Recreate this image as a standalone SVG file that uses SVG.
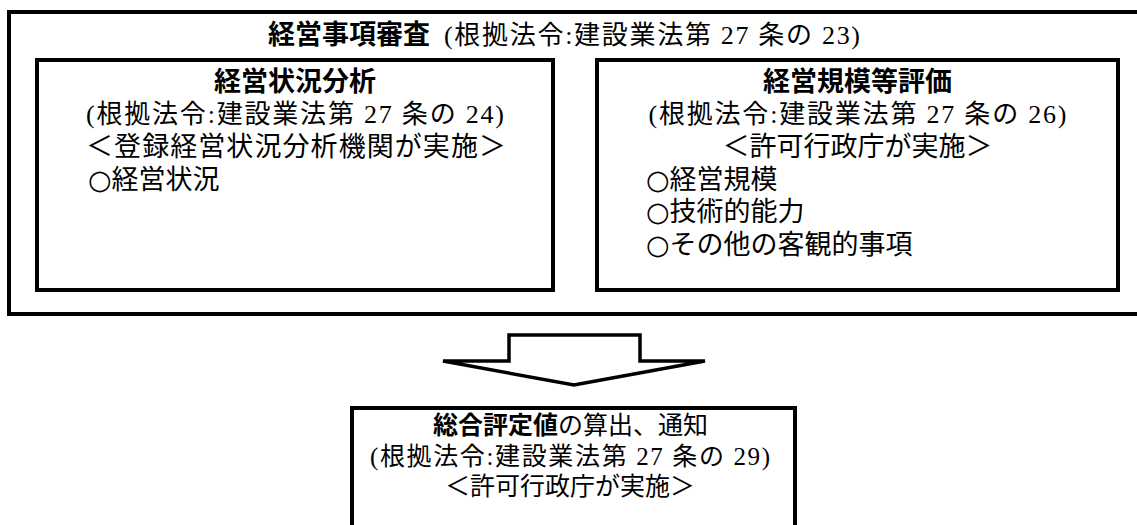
<svg xmlns="http://www.w3.org/2000/svg" width="1137" height="525" viewBox="0 0 1137 525">
<style>
.box{fill:none;stroke:#000;stroke-width:4}
.t{font-family:'Liberation Serif','Noto Sans CJK JP',serif;font-size:27px;fill:#000}
.i{font-family:'DejaVu Sans','Noto Sans CJK JP',sans-serif}
.c{font-size:26px}
.s{font-size:25px}
.b{font-weight:bold}
.arrow{fill:#fff;stroke:#000;stroke-width:3.5;stroke-linejoin:miter}
</style>
<rect x="0" y="0" width="1137" height="525" fill="#fff"/>
<g id="outer">
<rect class="box" x="9" y="12" width="1140" height="302"/>
<text class="t b" x="268" y="44">経営事項審査</text>
<text class="t c" x="444" y="44" textLength="416" lengthAdjust="spacing">(根拠法令:建設業法第 27 条の 23)</text>
</g>
<g id="analysis">
<rect class="box" x="37" y="60" width="516" height="230"/>
<text class="t b" x="295" y="91" text-anchor="middle">経営状況分析</text>
<text class="t c" x="86" y="123" textLength="418" lengthAdjust="spacing">(根拠法令:建設業法第 27 条の 24)</text>
<text class="t" x="86" y="156" textLength="420" lengthAdjust="spacing">＜登録経営状況分析機関が実施＞</text>
<text class="t i" x="88" y="188.5">○経営状況</text>
</g>
<g id="scale">
<rect class="box" x="597" y="60" width="521" height="230"/>
<text class="t b" x="857.5" y="91" text-anchor="middle">経営規模等評価</text>
<text class="t c" x="648.5" y="123" textLength="418" lengthAdjust="spacing">(根拠法令:建設業法第 27 条の 26)</text>
<text class="t" x="857.5" y="156" text-anchor="middle">＜許可行政庁が実施＞</text>
<text class="t i" x="646" y="188.5">○経営規模</text>
<text class="t i" x="646" y="221">○技術的能力</text>
<text class="t i" x="646" y="253.5">○その他の客観的事項</text>
</g>
<g id="connectors">
<polygon class="arrow" points="443,361 509,361 509,335 640,335 640,361 705,361 574,385"/>
</g>
<g id="result">
<path class="box" d="M352,540 V408 H795 V540"/>
<text class="t s" x="570.5" y="434" text-anchor="middle"><tspan class="b">総合評定値</tspan>の算出、通知</text>
<text class="t c s" x="370" y="465" textLength="400" lengthAdjust="spacing">(根拠法令:建設業法第 27 条の 29)</text>
<text class="t s" x="570" y="495" text-anchor="middle">＜許可行政庁が実施＞</text>
</g>
</svg>
